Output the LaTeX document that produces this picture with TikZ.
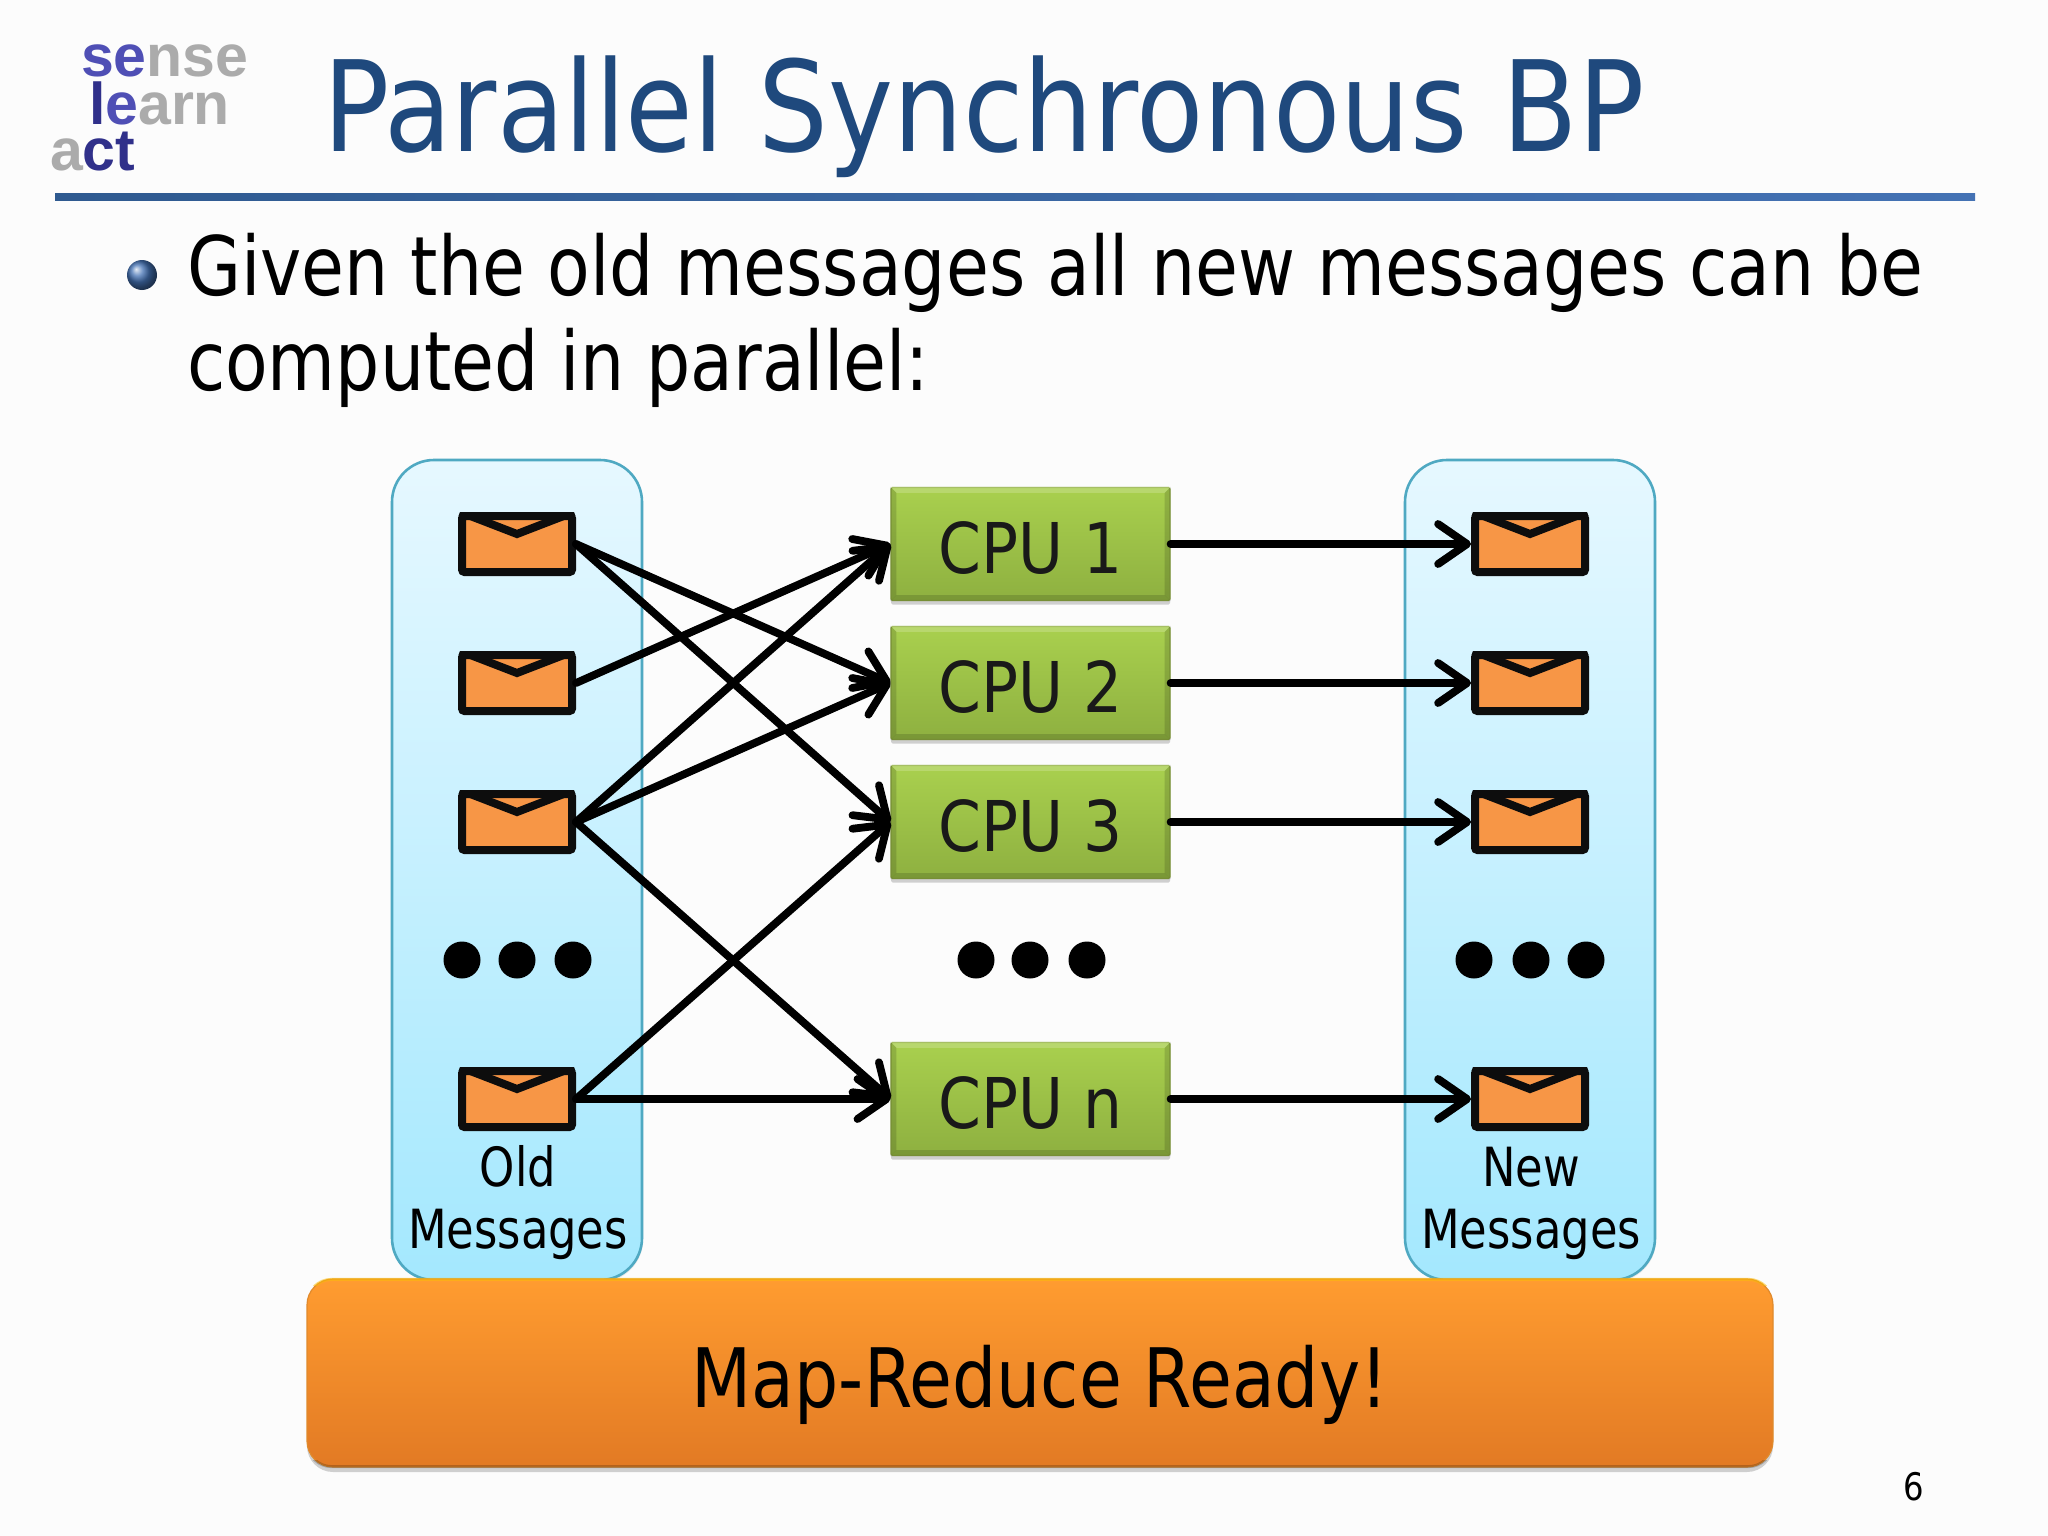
\documentclass[tikz,border=0pt]{standalone}
\usepackage{fontspec}
\setmainfont{DejaVu Sans}
\newfontfamily\titlefont{DejaVu Sans}[FakeStretch=0.873]
\newfontfamily\bodyfont{DejaVu Sans}[FakeStretch=0.85]
\newfontfamily\cpufont{DejaVu Sans}[FakeStretch=0.877]
\newfontfamily\labelfont{DejaVu Sans}[FakeStretch=0.83]
\newfontfamily\logofont{Liberation Sans}
\usetikzlibrary{arrows.meta,shadows,calc}
\definecolor{titleblue}{HTML}{1F497D}
\definecolor{envorange}{HTML}{F79646}
\definecolor{logoblue}{HTML}{4F4FB5}
\definecolor{logodeep}{HTML}{30308A}
\definecolor{logogrey}{HTML}{ABABAB}
\definecolor{laneTop}{HTML}{E6F8FF}
\definecolor{laneBot}{HTML}{A4E8FE}
\definecolor{laneEdge}{HTML}{4FA9C2}
\definecolor{cpuTop}{HTML}{A9D04E}
\definecolor{cpuBot}{HTML}{8EB040}
\definecolor{cpuEdge}{HTML}{8AA63E}
\definecolor{readyTop}{HTML}{FF9C30}
\definecolor{readyBot}{HTML}{E27A24}
\definecolor{readyEdge}{HTML}{E08A2C}
\definecolor{ruleA}{HTML}{2F5A90}
\definecolor{ruleB}{HTML}{4472B4}
\tikzset{
  base text/.style={inner sep=0pt,outer sep=0pt,text=black},
  lane/.style={draw=laneEdge,line width=2.6pt,rounded corners=42pt,top color=laneTop,bottom color=laneBot,minimum width=250pt,minimum height=820pt,inner sep=0pt,
     drop shadow={shadow xshift=1pt,shadow yshift=-2pt,opacity=.15}},
  mail/.style={draw=black!95,line width=8pt,fill=envorange,rounded corners=2.5pt,minimum width=110pt,minimum height=56pt,inner sep=0pt},
  flap/.style={draw=black!95,line width=8pt,line join=miter},
  cpu/.style={rounded corners=1.5pt,draw=cpuEdge,line width=1.2pt,top color=cpuTop,bottom color=cpuBot,minimum width=279pt,minimum height=113pt,inner sep=0pt,
     font=\cpufont\fontsize{70}{80}\selectfont,text=black!90,
     drop shadow={shadow xshift=0pt,shadow yshift=-4pt,opacity=.25,fill=black!70}},
  ready/.style={rounded corners=26pt,draw=readyEdge,line width=1.2pt,top color=readyTop,bottom color=readyBot,minimum width=1466pt,minimum height=188pt,inner sep=0pt,
     drop shadow={shadow xshift=0pt,shadow yshift=-5pt,opacity=.25,fill=black!70}},
  flow/.style={draw=black,line width=7.8pt,line cap=round,-{Straight Barb[length=29pt,width=40pt,line width=7.8pt,round]}},
  ellipsis dot/.style={circle,fill=black,minimum size=37pt,inner sep=0pt},
  logo/.style={inner sep=0pt,outer sep=0pt,anchor=base west,font=\logofont\bfseries\fontsize{59}{60}\selectfont},
  bevel light/.style={fill=#1,opacity=.4},
  bevel dark/.style={fill=#1,opacity=.14},
}
\begin{document}
\begin{tikzpicture}[x=1pt,y=-1pt]
\useasboundingbox (0,0) rectangle (2048,1536);
\fill[white!99!black] (0,0) rectangle (2048,1536);
% logo
\node[logo] (logoA) at (81,77) {\textcolor{logoblue}{se}\textcolor{logogrey}{nse}};
\node[logo] (logoB) at (89,125) {\textcolor{logodeep}{l}\textcolor{logoblue}{e}\textcolor{logogrey}{arn}};
\node[logo] (logoC) at (50,170) {\textcolor{logogrey}{a}\textcolor{logodeep}{ct}};
% title
\node[base text,anchor=base west,text=titleblue,font=\titlefont\fontsize{126}{130}\selectfont] (title) at (323,152) {Parallel Synchronous BP};
\shade[left color=ruleA,right color=ruleB] (55,193) rectangle (1975,200.5);
% bullet text
\shade[ball color=ruleB] (142,275) circle (15pt);
\node[base text,anchor=base west,font=\bodyfont\fontsize{82}{90}\selectfont] (line1) at (187,295) {Given the old messages all new messages can be};
\node[base text,anchor=base west,font=\bodyfont\fontsize{82}{90}\selectfont] (line2) at (187,390) {computed in parallel:};
% lanes
\node[lane] (oldlane) at (517,870) {};
\node[lane] (newlane) at (1530,870) {};
% envelopes
\foreach \n/\x/\y in {o1/517/544,o2/517/683,o3/517/822,on/517/1099,n1/1530/544,n2/1530/683,n3/1530/822,nn/1530/1099}{
  \node[mail] (\n) at (\x,\y) {};
  \begin{scope}
    \clip (\n.north west) rectangle (\n.south east);
    \draw[flap] ($(\n.north west)+(2,0)$) -- ($(\n.north)+(0,22)$) -- ($(\n.north east)+(-2,0)$);
  \end{scope}
}
% dots
\foreach \i/\x in {a/462,b/517,c/573,d/976,e/1030,f/1087,g/1474,h/1531,i/1586}{
  \node[ellipsis dot] (dot\i) at (\x,960) {};
}
% CPUs
\foreach \n/\y/\t in {c1/544/CPU 1,c2/683/CPU 2,c3/822/CPU 3,cn/1099/CPU n}{
  \node[cpu] (\n) at (1030.5,\y) {\raisebox{-4pt}[\height][\depth]{\t}};
  \fill[bevel light=cpuTop!55!white] (\n.north west) -- (\n.north east) -- ($(\n.north east)+(-6,6)$) -- ($(\n.north west)+(6,6)$) -- cycle;
  \fill[bevel dark=black] (\n.north west) -- ($(\n.north west)+(6,6)$) -- ($(\n.south west)+(6,-6)$) -- (\n.south west) -- cycle;
  \fill[bevel dark=black] (\n.north east) -- ($(\n.north east)+(-6,6)$) -- ($(\n.south east)+(-6,-6)$) -- (\n.south east) -- cycle;
  \fill[bevel dark=black] (\n.south west) -- ($(\n.south west)+(6,-6)$) -- ($(\n.south east)+(-6,-6)$) -- (\n.south east) -- cycle;
}
% connectors
\foreach \a/\b in {o1/c2,o1/c3,o2/c1,o3/c1,o3/c2,o3/cn,on/c3,on/cn,c1/n1,c2/n2,c3/n3,cn/nn}{
  \draw[flow] (\a.east) -- (\b.west);
}
% labels
\node[base text,align=center,font=\labelfont\fontsize{54}{62}\selectfont] (oldlabel) at (518,1203) {Old\\Messages};
\node[base text,align=center,font=\labelfont\fontsize{54}{62}\selectfont] (newlabel) at (1531,1203) {New\\Messages};
% banner
\node[ready] (banner) at (1040,1373) {};
\begin{scope}
  \clip ($(banner.north west)+(-2,-2)$) rectangle ($(banner.north east)+(2,7)$);
  \draw[line width=3pt,draw=yellow!50!orange,opacity=.55,rounded corners=24pt] ($(banner.north west)+(1,1)$) rectangle ($(banner.south east)+(-1,-1)$);
\end{scope}
\begin{scope}
  \clip ($(banner.south west)+(-2,-7)$) rectangle ($(banner.south east)+(2,2)$);
  \draw[line width=3pt,draw=black,opacity=.2,rounded corners=24pt] ($(banner.north west)+(1,1)$) rectangle ($(banner.south east)+(-1,-1)$);
\end{scope}
\node[base text,anchor=base,font=\bodyfont\fontsize{82}{90}\selectfont] (bannertext) at (1040,1407) {Map-Reduce Ready!};
\node[base text,anchor=base,font=\bodyfont\fontsize{38}{40}\selectfont] (pagenum) at (1914,1500) {6};
\end{tikzpicture}
\end{document}
